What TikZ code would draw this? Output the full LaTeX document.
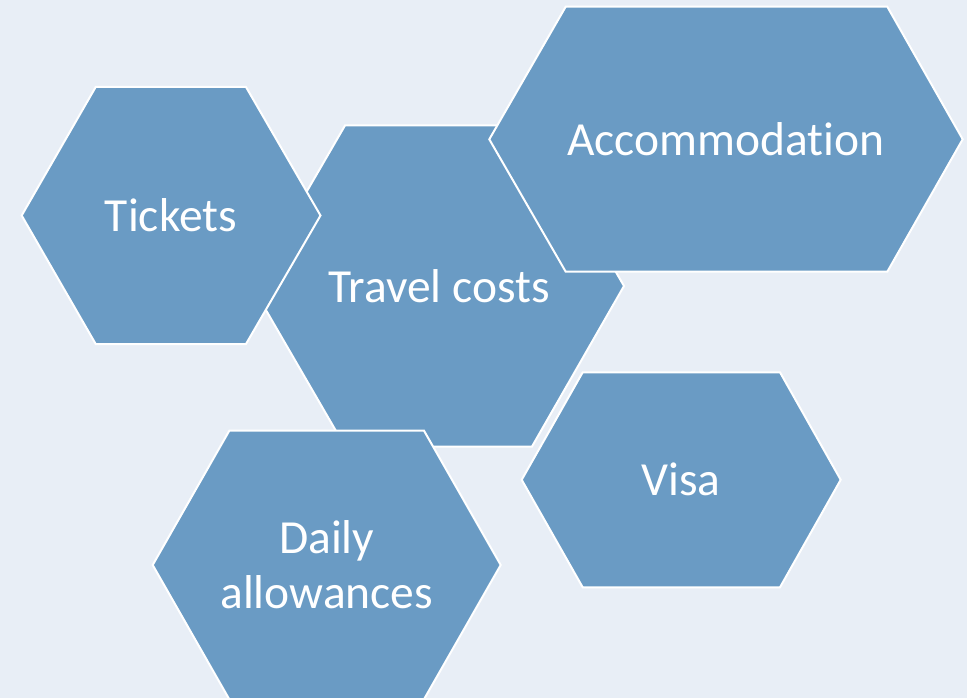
\documentclass[tikz,border=0pt]{standalone}
\usepackage{fontspec}
\setmainfont{Carlito}[Ligatures=NoCommon]
\definecolor{bgcol}{HTML}{E8EEF6}
\definecolor{hexfill}{HTML}{6A9BC4}
\begin{document}
\begin{tikzpicture}[x=1pt,y=-1pt,
  hexa/.style={fill=hexfill,draw=white,line width=2pt,line join=miter},
  lbl/.style={text=white,font=\fontsize{47.5}{55}\selectfont,align=center,inner sep=0pt}]
\fill[bgcol] (0,0) rectangle (967,698);
\useasboundingbox (0,0) rectangle (967,698);
% Travel costs
\path[hexa] (252,286) -- (345,125.5) -- (531,125.5) -- (624,286) -- (532,446.5) -- (345,446.5) -- cycle;
\node[lbl] (travel) at (439,286) {Travel costs};
% Tickets
\path[hexa] (21.7,215.5) -- (95.7,87) -- (246,87) -- (320.5,215.5) -- (246,344) -- (95.7,344) -- cycle;
\node[lbl] (tickets) at (171,215.5) {Tickets};
% Accommodation
\path[hexa] (489.3,139.3) -- (565.7,6.7) -- (887.3,6.7) -- (962.7,139.3) -- (887.3,271.7) -- (565.7,271.7) -- cycle;
\node[lbl] (accom) at (726,139.3) {Accommodation};
% Daily allowances
\path[hexa] (152.7,565) -- (229.3,430.7) -- (424,430.7) -- (500.7,565) -- (424,699.3) -- (229.3,699.3) -- cycle;
\node[lbl] (daily) at (326.7,565) {Daily\\allowances};
% Visa
\path[hexa] (521.7,479.8) -- (582.7,372.3) -- (780,372.3) -- (840.7,479.8) -- (780,587.3) -- (582.7,587.3) -- cycle;
\node[lbl] (visa) at (681.2,479.8) {Visa};
\end{tikzpicture}
\end{document}
